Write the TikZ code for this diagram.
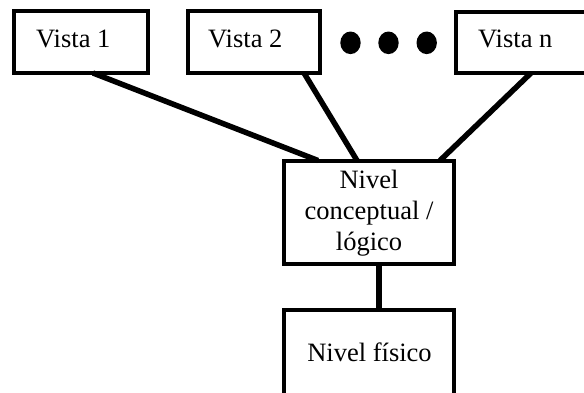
\documentclass[tikz,border=0pt]{standalone}
\usepackage{fontspec}
\setmainfont{Liberation Serif}
\begin{document}
\begin{tikzpicture}[x=1pt,y=-1pt,
  box/.style={draw=black,line width=4pt,rectangle,inner sep=0pt,outer sep=0pt,anchor=north west},
  label/.style={inner sep=0pt,font=\fontsize{26.5}{31}\selectfont},
  link/.style={draw=black,line width=5.5pt},
  dotfill/.style={fill=black,x radius=10.2pt,y radius=11.3pt}]
\useasboundingbox (0,0) rectangle (584,392);
\clip (0,0) rectangle (584,392);
\fill[white] (0,0) rectangle (584,392);

% top row of views
\node[box,minimum width=134pt,minimum height=62pt] (v1) at (14,11) {};
\node[box,minimum width=132pt,minimum height=62pt] (v2) at (188,11) {};
\node[box,minimum width=150pt,minimum height=61pt] (vn) at (456,12) {};
\node[label,anchor=base west] (t1) at (36,47) {Vista 1};
\node[label,anchor=base west] (t2) at (208,47) {Vista 2};
\node[label,anchor=base west] (tn) at (478,47) {Vista n};

% ellipsis between the views
\fill[dotfill] (350.5,42.8) ellipse [];
\fill[dotfill] (388.5,42.8) ellipse [];
\fill[dotfill] (426.7,42.8) ellipse [];

% conceptual / logical level
\node[box,minimum width=170pt,minimum height=103pt] (nc) at (284,160.5) {};
\node[label,anchor=base] (c1) at (369,188) {Nivel};
\node[label,anchor=base] (c2) at (369,219) {conceptual /};
\node[label,anchor=base] (c3) at (369,250) {lógico};

% physical level
\node[box,minimum width=170pt,minimum height=120pt] (nf) at (284,310) {};
\node[label,anchor=base] (f1) at (369.5,361.5) {Nivel físico};

% connectors
\draw[link] ([xshift=79pt]v1.south west) -- ([xshift=34pt]nc.north west);
\draw[link] ([xshift=116pt]v2.south west) -- ([xshift=73pt]nc.north west);
\draw[link] ([xshift=75pt]vn.south west) -- ([xshift=156pt]nc.north west);
\draw[link] ([xshift=95pt]nc.south west) -- ([xshift=95pt]nf.north west);
\end{tikzpicture}
\end{document}
